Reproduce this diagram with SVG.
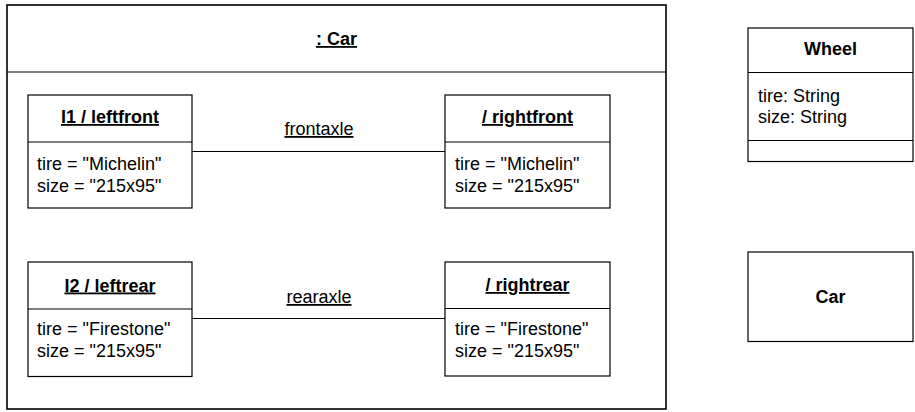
<svg xmlns="http://www.w3.org/2000/svg" width="915" height="412" viewBox="0 0 915 412">
<style>
.box{fill:#fff;stroke:#000;stroke-width:1.2}
.frame{fill:#fff;stroke:#000;stroke-width:1.6}
.ln{stroke:#000;stroke-width:1.2;fill:none}
text{font-family:"Liberation Sans",Arial,sans-serif;font-size:18px;fill:#000}
.t{font-weight:bold;text-anchor:middle}
.u{text-decoration:underline}
.c{text-anchor:middle}
</style>
<rect width="915" height="412" fill="#fff"/>
<g id="car-instance">
<rect class="frame" x="7" y="5" width="659" height="404"/>
<line class="ln" x1="7" y1="72" x2="666" y2="72"/>
<text class="t u" x="336.5" y="45">: Car</text>
</g>
<g id="connectors">
<line class="ln" x1="192" y1="151.5" x2="445" y2="151.5"/>
<text class="c u" x="319" y="135">frontaxle</text>
<line class="ln" x1="192" y1="318.5" x2="445" y2="318.5"/>
<text class="c u" x="319" y="303">rearaxle</text>
</g>
<g id="leftfront">
<rect class="box" x="28" y="95" width="164" height="113"/>
<line class="ln" x1="28" y1="142" x2="192" y2="142"/>
<text class="t u" x="110" y="123">I1 / leftfront</text>
<text x="37" y="170">tire = "Michelin"</text>
<text x="37" y="191.5">size = "215x95"</text>
</g>
<g id="rightfront">
<rect class="box" x="445" y="95" width="165" height="113"/>
<line class="ln" x1="445" y1="142" x2="610" y2="142"/>
<text class="t u" x="527.5" y="123">/ rightfront</text>
<text x="455" y="170">tire = "Michelin"</text>
<text x="455" y="191.5">size = "215x95"</text>
</g>
<g id="leftrear">
<rect class="box" x="28" y="262" width="164" height="114.5"/>
<line class="ln" x1="28" y1="309" x2="192" y2="309"/>
<text class="t u" x="110" y="291.5">I2 / leftrear</text>
<text x="37" y="335">tire = "Firestone"</text>
<text x="37" y="356.5">size = "215x95"</text>
</g>
<g id="rightrear">
<rect class="box" x="445" y="262" width="165" height="114"/>
<line class="ln" x1="445" y1="308.5" x2="610" y2="308.5"/>
<text class="t u" x="527.5" y="291">/ rightrear</text>
<text x="455" y="335">tire = "Firestone"</text>
<text x="455" y="356.5">size = "215x95"</text>
</g>
<g id="wheel-class">
<rect class="box" x="748" y="28" width="165" height="133.5"/>
<line class="ln" x1="748" y1="72.5" x2="913" y2="72.5"/>
<line class="ln" x1="748" y1="140.5" x2="913" y2="140.5"/>
<text class="t" x="830.5" y="55">Wheel</text>
<text x="758" y="101.5">tire: String</text>
<text x="758" y="123">size: String</text>
</g>
<g id="car-class">
<rect class="box" x="748" y="252" width="165" height="89.5"/>
<text class="t" x="830.5" y="303">Car</text>
</g>
</svg>
